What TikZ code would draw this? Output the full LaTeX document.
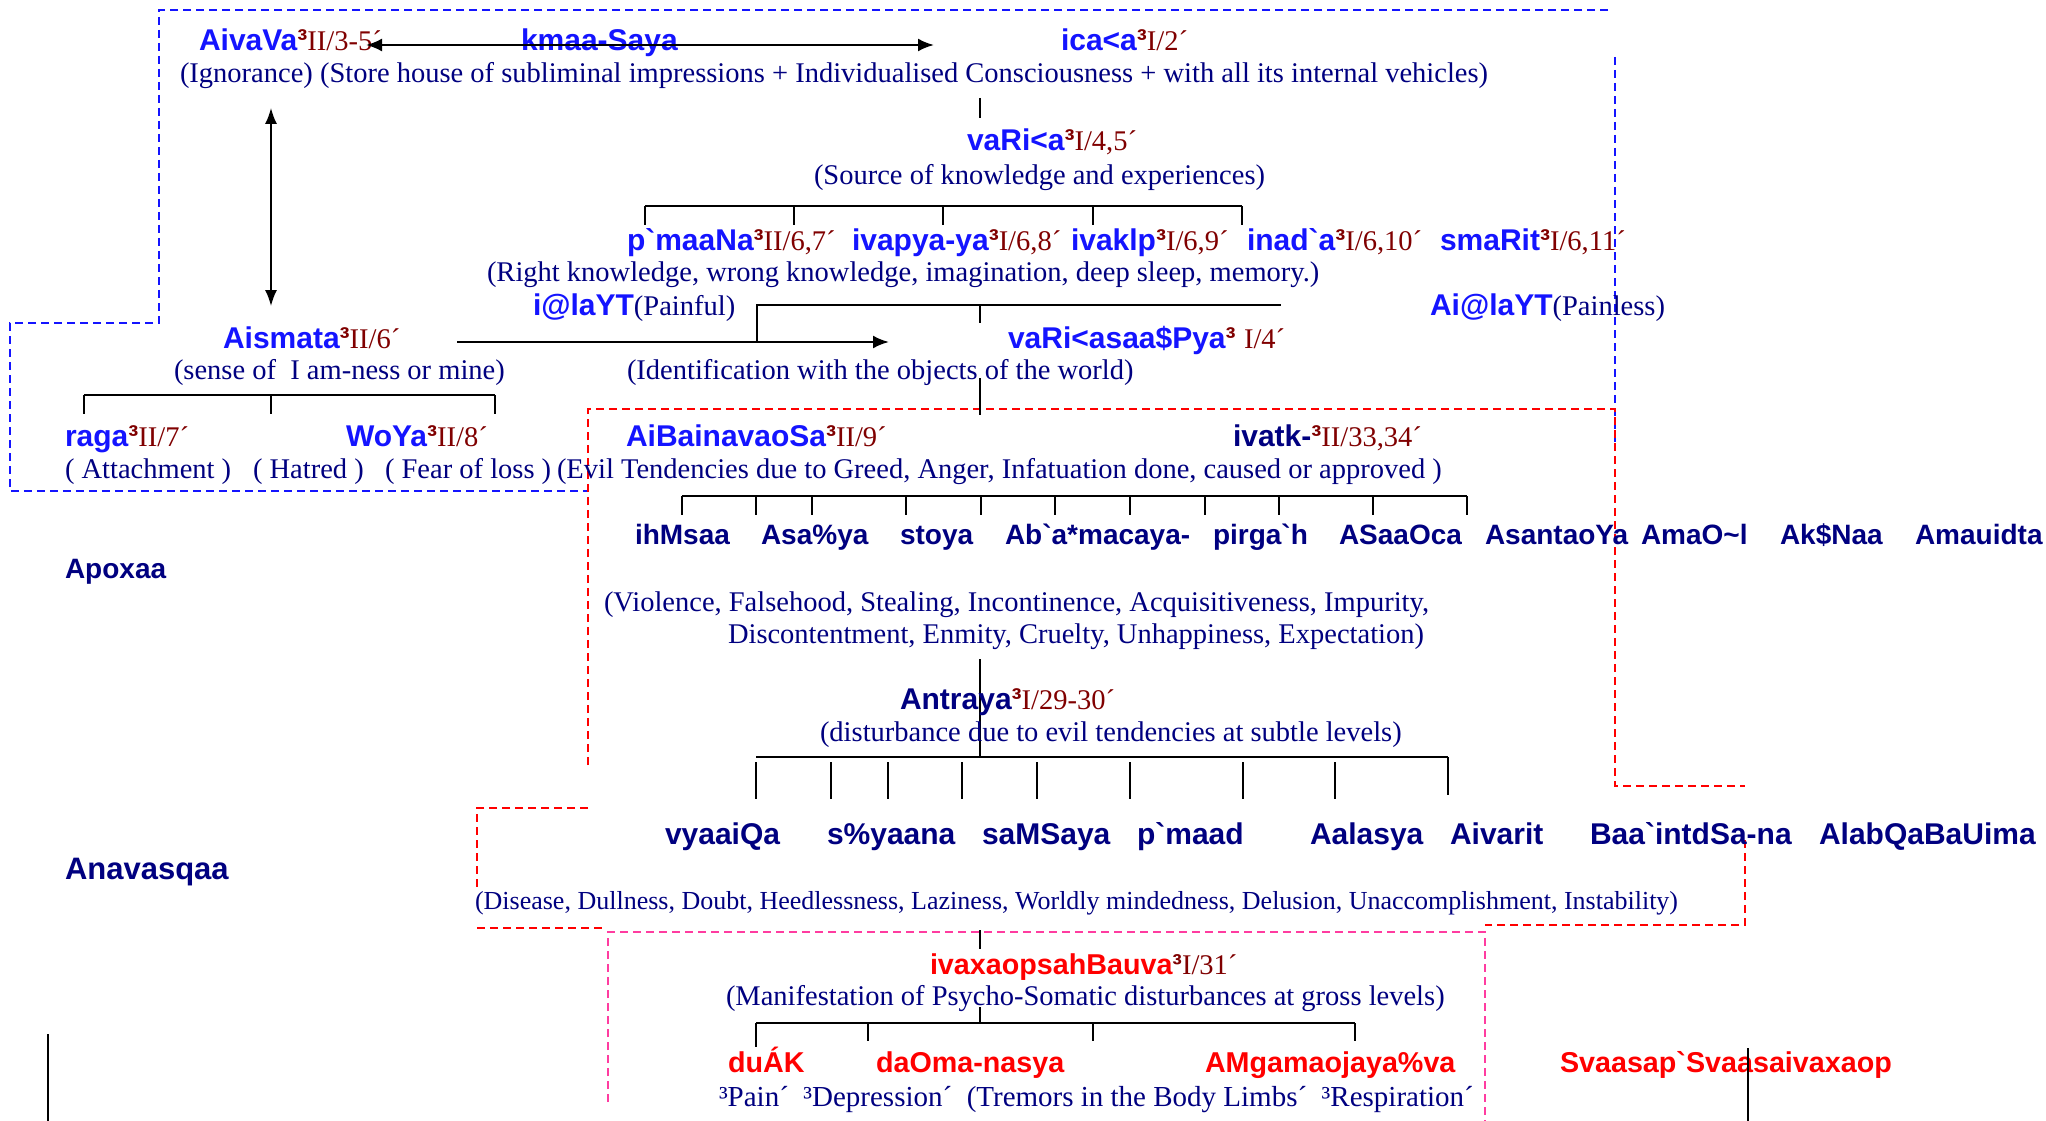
\documentclass[tikz,border=0pt]{standalone}
\usepackage{fontspec}
\setmainfont{Liberation Serif}
\setsansfont{Liberation Sans}
\usetikzlibrary{arrows.meta}
\definecolor{bblue}{RGB}{20,20,255}
\definecolor{navyc}{RGB}{0,0,128}
\definecolor{dred}{RGB}{128,0,0}
\definecolor{rred}{RGB}{255,0,0}
\definecolor{pinkc}{RGB}{255,60,160}
\newcommand\sansbig{\fontsize{30}{30}\selectfont\sffamily\bfseries}
\newcommand\sansmid{\fontsize{28}{28}\selectfont\sffamily\bfseries}
\newcommand\sanslow{\fontsize{30}{30}\selectfont\sffamily\bfseries}
\newcommand\sansred{\fontsize{28.7}{29}\selectfont\sffamily\bfseries}
\newcommand\serifmid{\fontsize{28.5}{28.5}\selectfont\rmfamily\mdseries}
\newcommand\serifsmall{\fontsize{26}{26}\selectfont\rmfamily\mdseries}
\newcommand\serifbot{\fontsize{29}{29}\selectfont\rmfamily\mdseries}
\newcommand\gr{\textasciigrave{}}
\newcommand\myref[1]{\textcolor{dred}{{\sffamily\bfseries ³}{\serifmid #1}}}
\newcommand\dsc[1]{\textcolor{navyc}{\serifmid #1}}
\tikzset{
  tx/.style={anchor=base west,inner sep=0pt,outer sep=0pt,yshift=-2pt},
  sb/.style={tx,font=\sansbig,text=bblue},
  nb/.style={tx,font=\sansmid,text=navyc},
  nbl/.style={tx,font=\sanslow,text=navyc},
  rb/.style={tx,font=\sansred,text=rred},
  desc/.style={tx,font=\serifmid,text=navyc},
  brack/.style={line width=2.2pt,black},
  tick/.style={line width=1.3pt,black},
  arr/.style={line width=2.4pt,black},
  bdash/.style={draw=bblue,line width=1.8pt,dash pattern=on 8pt off 5pt},
  rdash/.style={draw=rred,line width=1.8pt,dash pattern=on 8pt off 5pt},
  pdash/.style={draw=pinkc,line width=1.8pt,dash pattern=on 8pt off 5pt},
}
\begin{document}
\begin{tikzpicture}[x=1pt,y=-1pt]
\path[use as bounding box,fill=white] (0,0) rectangle (2046,1121);

% ---------- dashed frames ----------
\coordinate (b1) at (159,10); \coordinate (b2) at (1608,10);
\coordinate (b3) at (159,323); \coordinate (b4) at (10,323);
\coordinate (b5) at (10,491); \coordinate (b6) at (588,491);
\coordinate (b7) at (1615,57); \coordinate (b8) at (1615,445);
\draw[bdash] (b2) -- (b1) -- (b3) -- (b4) -- (b5) -- (b6);
\draw[bdash] (b7) -- (b8);

\coordinate (r1) at (588,765); \coordinate (r2) at (588,409);
\coordinate (r3) at (1615,409); \coordinate (r4) at (1615,786);
\coordinate (r5) at (1745,786); \coordinate (r6) at (1745,840);
\coordinate (r7) at (1745,925); \coordinate (r8) at (1485,925);
\draw[rdash] (r1) -- (r2) -- (r3) -- (r4) -- (r5);
\draw[rdash] (r6) -- (r7) -- (r8);
\coordinate (r9) at (588,808); \coordinate (r10) at (477,808);
\coordinate (r11) at (477,888); \coordinate (r12) at (477,928);
\coordinate (r13) at (606,928);
\draw[rdash] (r9) -- (r10) -- (r11);
\draw[rdash] (r12) -- (r13);

\coordinate (p1) at (608,1102); \coordinate (p2) at (608,932);
\coordinate (p3) at (1485,932); \coordinate (p4) at (1485,1121);
\draw[pdash] (p1) -- (p2) -- (p3) -- (p4);

% ---------- row 1 ----------
\node[sb] (avidya) at (199,49) {AivaVa\myref{II/3-5´}};
\node[sb] (kmaa) at (521,49) {kmaa-Saya};
\node[sb] (ica) at (1061,49) {ica<a\myref{I/2´}};
\coordinate (ha1) at (366,45); \coordinate (ha2) at (934,45);
\draw[arr,{Latex[length=16pt,width=13pt]}-{Latex[length=16pt,width=13pt]}] (ha1) -- (ha2);
\node[desc] (ign) at (180,81) {(Ignorance) (Store house of subliminal impressions + Individualised Consciousness + with all its internal vehicles)};

\coordinate (s1a) at (980,98); \coordinate (s1b) at (980,118);
\draw[tick] (s1a) -- (s1b);

% ---------- vritti ----------
\node[sb] (vritti) at (967,148) {vaRi<a\myref{I/4,5´}};
\node[desc] (source) at (814,182) {(Source of knowledge and experiences)};
\coordinate (k0) at (645,206); \coordinate (k4) at (1242,206);
\draw[brack] (k0) -- (k4);
\foreach \xx [count=\i] in {645,794,943,1093,1242}{
  \coordinate (kt\i) at (\xx,206); \coordinate (kb\i) at (\xx,225);
  \draw[tick] (kt\i) -- (kb\i);
}
\node[sb] (pram) at (627,248) {p\gr maaNa\myref{II/6,7´}};
\node[sb] (vipa) at (852,248) {ivapya-ya\myref{I/6,8´}};
\node[sb] (vika) at (1071,248) {ivaklp\myref{I/6,9´}};
\node[sb] (nidr) at (1247,248) {inad\gr a\myref{I/6,10´}};
\node[sb] (smri) at (1440,248) {smaRit\myref{I/6,11´}};
\node[desc] (right) at (487,279) {(Right knowledge, wrong knowledge, imagination, deep sleep, memory.)};
\node[sb] (klis) at (533,313) {i@laYT\dsc{(Painful)}};
\node[sb] (akli) at (1430,313) {Ai@laYT\dsc{(Painless)}};

\coordinate (c1) at (757,342); \coordinate (c2) at (757,305);
\coordinate (c3) at (1281,305); \coordinate (c4) at (980,305);
\coordinate (c5) at (980,323);
\draw[tick] (c1) -- (c2) -- (c3);
\draw[tick] (c4) -- (c5);

% ---------- asmita ----------
\coordinate (va1) at (271,108); \coordinate (va2) at (271,306);
\draw[line width=1.6pt,{Latex[length=16pt,width=12pt]}-{Latex[length=16pt,width=12pt]}] (va1) -- (va2);
\node[sb] (asmi) at (223,346) {Aismata\myref{II/6´}};
\node[desc] (sense) at (174,377) {(sense of~~I am-ness or mine)};
\coordinate (ar1) at (457,342); \coordinate (ar2) at (889,342);
\draw[arr,-{Latex[length=16pt,width=13pt]}] (ar1) -- (ar2);
\node[sb] (sarup) at (1008,346) {vaRi<asaa\$Pya\textcolor{dred}{{\sffamily\bfseries ³} {\serifmid I/4´}}};
\node[desc] (ident) at (627,377) {(Identification with the objects of the world)};

\coordinate (a0) at (84,395); \coordinate (a2) at (495,395);
\draw[brack] (a0) -- (a2);
\foreach \xx [count=\i] in {84,271,495}{
  \coordinate (at\i) at (\xx,395); \coordinate (ab\i) at (\xx,414);
  \draw[tick] (at\i) -- (ab\i);
}
\node[sb] (raga) at (65,444) {raga\myref{II/7´}};
\node[sb] (dvesa) at (346,444) {WoYa\myref{II/8´}};
\node[desc] (attach) at (65,476) {( Attachment )};
\node[desc] (hatred) at (253,476) {( Hatred )};
\node[desc] (fear) at (385,476) {( Fear of loss )};
\node[desc] (evil) at (557,476) {(Evil Tendencies due to Greed, Anger, Infatuation done, caused or approved )};

\coordinate (d1) at (980,378); \coordinate (d2) at (980,415);
\draw[tick] (d1) -- (d2);

% ---------- abhinivesa ----------
\node[sb] (abhi) at (626,444) {AiBainavaoSa\myref{II/9´}};
\node[tx,font=\sansbig,text=navyc] (vitk) at (1233,444) {ivatk-\myref{II/33,34´}};
\coordinate (e0) at (682,496); \coordinate (e10) at (1467,496);
\draw[brack] (e0) -- (e10);
\foreach \xx [count=\i] in {682,756,812,906,981,1055,1130,1205,1279,1373,1467}{
  \coordinate (et\i) at (\xx,496); \coordinate (eb\i) at (\xx,515);
  \draw[tick] (et\i) -- (eb\i);
}
\node[nb] (w1) at (635,542) {ihMsaa};
\node[nb] (w2) at (761,542) {Asa\%ya};
\node[nb] (w3) at (900,542) {stoya};
\node[nb] (w4) at (1005,542) {Ab\gr a*macaya-};
\node[nb] (w5) at (1213,542) {pirga\gr h};
\node[nb] (w6) at (1339,542) {ASaaOca};
\node[nb] (w7) at (1485,542) {AsantaoYa};
\node[nb] (w8) at (1641,542) {AmaO\textasciitilde l};
\node[nb] (w9) at (1780,542) {Ak\$Naa};
\node[nb] (w10) at (1915,542) {Amauidta};
\node[nb] (apox) at (65,576) {Apoxaa};
\node[desc] (viol) at (604,609) {(Violence, Falsehood, Stealing, Incontinence, Acquisitiveness, Impurity,};
\node[desc] (disc) at (728,641) {Discontentment, Enmity, Cruelty, Unhappiness, Expectation)};

% ---------- antaraya ----------
\coordinate (f1) at (980,659); \coordinate (f2) at (980,757);
\draw[tick] (f1) -- (f2);
\node[tx,font=\sansbig,text=navyc] (antr) at (900,707) {Antraya\myref{I/29-30´}};
\node[desc] (dist) at (820,739) {(disturbance due to evil tendencies at subtle levels)};
\coordinate (g0) at (756,757); \coordinate (g8) at (1448,757);
\draw[brack] (g0) -- (g8);
\foreach \xx [count=\i] in {756,831,888,962,1037,1130,1243,1335}{
  \coordinate (gt\i) at (\xx,762); \coordinate (gb\i) at (\xx,799);
  \draw[tick] (gt\i) -- (gb\i);
}
\coordinate (gt9) at (1448,757); \coordinate (gb9) at (1448,795);
\draw[tick] (gt9) -- (gb9);
\node[nbl] (v1) at (665,842) {vyaaiQa};
\node[nbl] (v2) at (827,842) {s\%yaana};
\node[nbl] (v3) at (982,842) {saMSaya};
\node[nbl] (v4) at (1137,842) {p\gr maad};
\node[nbl] (v5) at (1310,842) {Aalasya};
\node[nbl] (v6) at (1450,842) {Aivarit};
\node[nbl] (v7) at (1590,842) {Baa\gr intdSa-na};
\node[nbl] (v8) at (1819,842) {AlabQaBaUima};
\node[tx,font=\fontsize{31}{31}\selectfont\sffamily\bfseries,text=navyc] (anav) at (65,877) {Anavasqaa};
\node[tx,font=\serifsmall,text=navyc] (dise) at (475,907) {(Disease, Dullness, Doubt, Heedlessness, Laziness, Worldly mindedness, Delusion, Unaccomplishment, Instability)};

% ---------- viksepa ----------
\coordinate (h1) at (980,930); \coordinate (h2) at (980,949);
\draw[tick] (h1) -- (h2);
\node[rb] (viks) at (930,972) {ivaxaopsahBauva\myref{I/31´}};
\node[desc] (mani) at (726,1003) {(Manifestation of Psycho-Somatic disturbances at gross levels)};
\coordinate (h3) at (980,1007); \coordinate (h4) at (980,1023);
\draw[tick] (h3) -- (h4);
\coordinate (j0) at (756,1023); \coordinate (j3) at (1355,1023);
\draw[brack] (j0) -- (j3);
\coordinate (jt1) at (756,1023); \coordinate (jb1) at (756,1047);
\draw[tick] (jt1) -- (jb1);
\foreach \xx [count=\i from 2] in {868,1093,1355}{
  \coordinate (jt\i) at (\xx,1023); \coordinate (jb\i) at (\xx,1041);
  \draw[tick] (jt\i) -- (jb\i);
}
\node[rb] (duk) at (728,1070) {duÁK};
\node[rb] (daum) at (876,1070) {daOma-nasya};
\node[rb] (anga) at (1205,1070) {AMgamaojaya\%va};
\node[rb] (svas) at (1560,1070) {Svaasap\gr Svaasaivaxaop};
\node[tx,font=\serifbot,text=navyc] (pain) at (719,1104) {³Pain´~~³Depression´~~(Tremors in the Body Limbs´~~³Respiration´};

\coordinate (z1) at (48,1034); \coordinate (z2) at (48,1121);
\draw[tick] (z1) -- (z2);
\coordinate (z3) at (1748,1048); \coordinate (z4) at (1748,1121);
\draw[tick] (z3) -- (z4);
\end{tikzpicture}
\end{document}
